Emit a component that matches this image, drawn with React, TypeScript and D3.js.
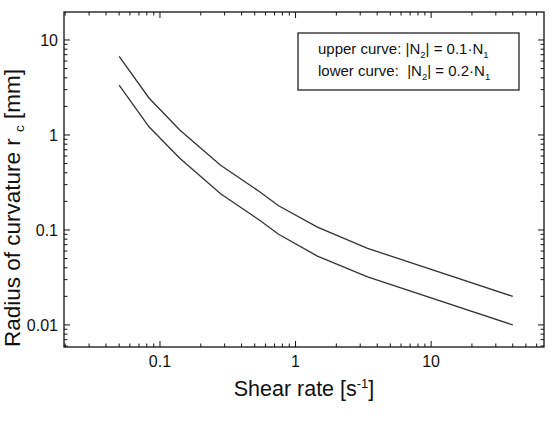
import React, { useEffect, useRef } from "react";
import * as d3 from "d3";

// shear rate [1/s] and radius of curvature [mm]
const shearRate = [0.05, 0.083, 0.14, 0.28, 0.55, 0.75, 1.45, 3.4, 40];
const upperCurve = [6.7, 2.45, 1.13, 0.48, 0.25, 0.18, 0.107, 0.064, 0.02];
const lowerCurve = [3.35, 1.22, 0.57, 0.24, 0.125, 0.09, 0.053, 0.032, 0.01];
const xLabels = [0.1, 1, 10];
const yLabels = [0.01, 0.1, 1, 10];

const font = "'Liberation Sans', Arial, sans-serif";

export default function App() {
  const ref = useRef<SVGSVGElement>(null);

  useEffect(() => {
    const svg = d3.select(ref.current);
    svg.selectAll("*").remove();

    const left = 64, right = 544, top = 12, bottom = 347;
    const x = d3.scaleLog().domain([0.0196, 68]).range([left, right]);
    const y = d3.scaleLog().domain([0.00586, 19.7]).range([bottom, top]);

    const isMajor = (v: number) => Math.abs(Math.log10(v) - Math.round(Math.log10(v))) < 1e-6;
    const xt = x.ticks().filter(d => d >= x.domain()[0] && d <= x.domain()[1]);
    const yt = y.ticks().filter(d => d >= y.domain()[0] && d <= y.domain()[1]);

    // inward ticks on all four sides
    const ticks = svg.append("g").attr("stroke", "#111").attr("stroke-width", 1);
    xt.forEach(v => {
      const len = isMajor(v) ? 6 : 3.5;
      ticks.append("line").attr("x1", x(v)).attr("x2", x(v)).attr("y1", bottom).attr("y2", bottom - len);
      ticks.append("line").attr("x1", x(v)).attr("x2", x(v)).attr("y1", top).attr("y2", top + len);
    });
    yt.forEach(v => {
      const len = isMajor(v) ? 6 : 3.5;
      ticks.append("line").attr("x1", left).attr("x2", left + len).attr("y1", y(v)).attr("y2", y(v));
      ticks.append("line").attr("x1", right).attr("x2", right - len).attr("y1", y(v)).attr("y2", y(v));
    });

    // frame
    svg.append("rect").attr("x", left).attr("y", top).attr("width", right - left).attr("height", bottom - top)
      .attr("fill", "none").attr("stroke", "#111").attr("stroke-width", 1.3);

    // tick labels
    svg.append("g").selectAll("text").data(xLabels).join("text")
      .attr("x", d => x(d)).attr("y", 367).attr("text-anchor", "middle")
      .attr("font-family", font).attr("font-size", 16).attr("fill", "#111")
      .text(d => d3.format("~g")(d));
    svg.append("g").selectAll("text").data(yLabels).join("text")
      .attr("x", 58).attr("y", d => y(d) + 6).attr("text-anchor", "end")
      .attr("font-family", font).attr("font-size", 16).attr("fill", "#111")
      .text(d => d3.format("~g")(d));

    // curves
    const line = d3.line<number>().x((_, i) => x(shearRate[i])).y(d => y(d));
    [upperCurve, lowerCurve].forEach(c => {
      svg.append("path").attr("d", line(c)).attr("fill", "none")
        .attr("stroke", "#333").attr("stroke-width", 1.3);
    });

    // axis titles
    const xt2 = svg.append("text").attr("x", (left + right) / 2).attr("y", 396)
      .attr("text-anchor", "middle").attr("font-family", font).attr("font-size", 21.5).attr("fill", "#111");
    xt2.append("tspan").text("Shear rate [s");
    xt2.append("tspan").attr("dy", -8).attr("font-size", 13).text("-1");
    xt2.append("tspan").attr("dy", 8).text("]");

    const yt2 = svg.append("text").attr("transform", "translate(20,208) rotate(-90)")
      .attr("text-anchor", "middle").attr("font-family", font).attr("font-size", 22.5).attr("fill", "#111")
      .style("white-space", "pre");
    yt2.append("tspan").text("Radius of curvature r ");
    yt2.append("tspan").attr("dy", 4).attr("font-size", 13.5).text("c");
    yt2.append("tspan").attr("dy", -4).text(" [mm]");

    // legend
    const lg = svg.append("g");
    lg.append("rect").attr("x", 298).attr("y", 33).attr("width", 221).attr("height", 57)
      .attr("fill", "#fff").attr("stroke", "#111").attr("stroke-width", 1.2);
    const rows = [["upper curve: |N", "| = 0.1·N"], ["lower curve:  |N", "| = 0.2·N"]];
    rows.forEach((r, i) => {
      const t = lg.append("text").attr("x", 318).attr("y", 54 + i * 22)
        .attr("font-family", font).attr("font-size", 15).attr("fill", "#111")
        .style("white-space", "pre");
      t.append("tspan").text(r[0]);
      t.append("tspan").attr("dy", 4).attr("font-size", 9.5).text("2");
      t.append("tspan").attr("dy", -4).text(r[1]);
      t.append("tspan").attr("dy", 4).attr("font-size", 9.5).text("1");
    });
  }, []);

  return (
    <svg ref={ref} width={549} height={421}
      style={{ position: "absolute", left: 0, top: 0, background: "#fff" }} />
  );
}
